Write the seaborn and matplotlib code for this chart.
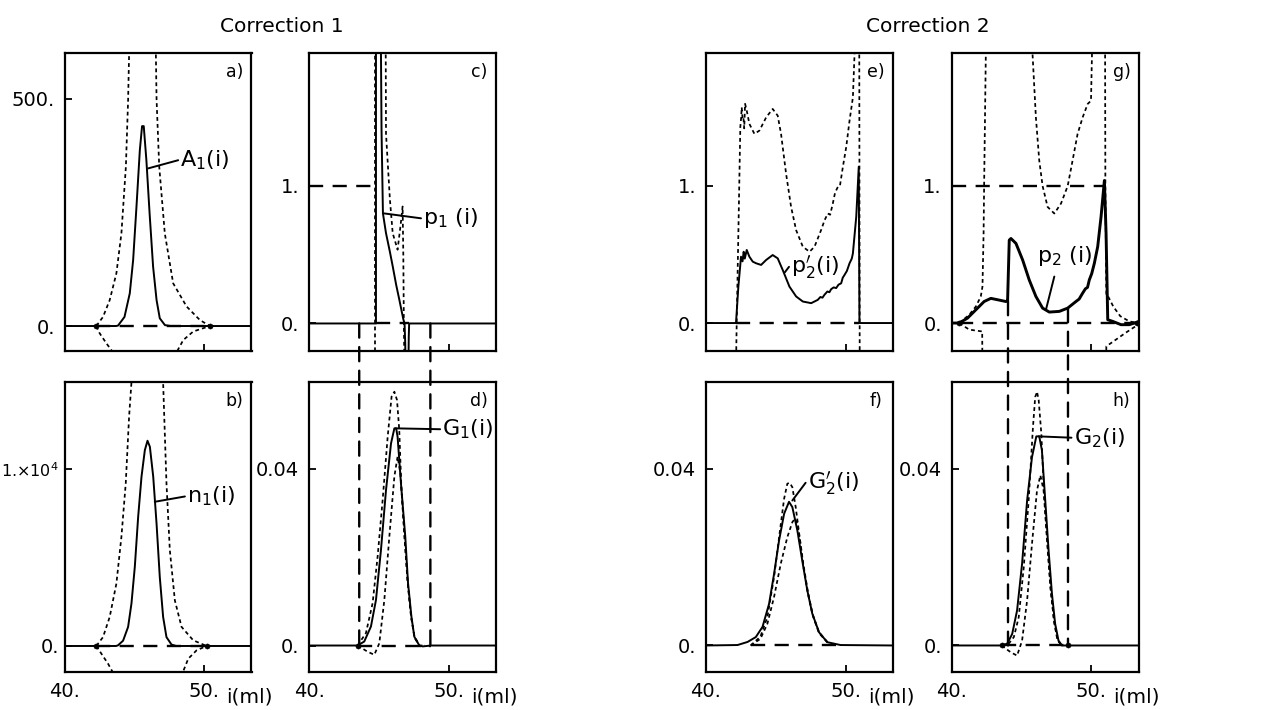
import matplotlib
matplotlib.use("Agg")
import matplotlib.pyplot as plt
import seaborn as sns
from matplotlib.patches import ConnectionPatch

sns.set_style("ticks")
plt.rcParams.update({
    'font.family': ['DejaVu Sans'],
    'mathtext.fontset': 'dejavusans',
    'axes.linewidth': 1.6,
    'axes.edgecolor': 'black',
    'text.color': 'black',
    'xtick.color': 'black',
    'ytick.color': 'black',
    'axes.labelcolor': 'black',
})

# ---------------- data ----------------
# a) A1(i)
A1_x = [40, 43.7, 43.84, 44.3, 44.68, 44.92, 45.16, 45.4, 45.56, 45.68, 45.87, 46.1, 46.35, 46.6, 46.83, 47.2, 47.6, 53.4]
A1_y = [0, 0, 1, 20, 72, 145, 263, 387, 440, 440, 365, 248, 131, 57, 17, 2, 0, 0]
a_up_x = [42.28, 42.76, 43.24, 43.72, 44.08, 44.4, 44.56, 44.63, 44.7, 46.5, 46.55, 46.6, 46.79, 47.19, 47.79, 48.75, 49.71, 50.43]
a_up_y = [0, 20, 57, 116, 204, 351, 498, 598, 800, 800, 598, 498, 351, 204, 94, 43, 13, 0]
a_lo_x = [42.28, 42.52, 43.0, 43.48, 43.7, 47.8, 48.03, 48.51, 49.23, 50.43]
a_lo_y = [0, -16, -38, -58, -80, -80, -58, -31, -12, 0]
a_zero_x = [42.28, 50.43]

# b) n1(i)
n1_x = [40, 43.7, 43.84, 44.2, 44.56, 44.8, 45.04, 45.28, 45.52, 45.76, 45.95, 46.12, 46.36, 46.6, 46.83, 47.07, 47.31, 47.67, 48.0, 53.4]
n1_y = [0, 0, 40, 300, 1080, 2400, 4470, 7300, 9570, 11070, 11600, 11260, 9570, 6900, 3900, 1640, 500, 80, 0, 0]
b_up_x = [42.28, 42.76, 43.24, 43.72, 44.08, 44.39, 44.63, 44.8, 44.9, 46.95, 47.07, 47.19, 47.31, 47.55, 47.91, 48.39, 49.23, 50.19]
b_up_y = [0, 500, 1640, 3530, 6170, 9190, 12960, 14900, 20000, 20000, 14900, 12020, 9190, 5420, 2580, 1080, 320, 0]
b_lo_x = [42.28, 42.64, 43.12, 43.48, 43.6, 48.35, 48.47, 48.87, 49.47, 50.19]
b_lo_y = [0, -430, -1000, -1510, -2000, -2000, -1510, -720, -245, 0]
b_zero_x = [42.28, 50.19]

# c) p1(i)
p1_x = [40, 44.8, 44.8, 45.0, 45.12, 45.16, 45.2, 45.3, 45.52, 45.8, 46.0, 46.25, 46.47, 46.76, 46.85, 46.9, 46.93]
p1_y = [0, 0, 2.5, 2.5, 2.2, 1.95, 1.4, 0.8, 0.656, 0.52, 0.416, 0.28, 0.175, 0.031, 0.0, -0.15, -0.4]
p1b_x = [47.12, 47.15, 47.18, 53.4]
p1b_y = [-0.4, -0.1, 0, 0]
c_vert_x = [44.76, 44.76]
c_vert_y = [-0.4, 2.5]
c_dot_x = [45.45, 45.5, 45.52, 45.8, 46.0, 46.35, 46.55, 46.71, 46.76, 46.8, 46.85]
c_dot_y = [2.5, 1.95, 1.38, 0.9, 0.656, 0.536, 0.7, 0.85, 0.5, 0.0, -0.4]
c_one_x = [40, 44.8]
c_zero_x = [44.8, 47.15]
c_links_x = [43.6, 48.7]

# d) G1(i)
G1_x = [40, 43.48, 43.96, 44.44, 44.8, 45.16, 45.52, 45.88, 46.12, 46.25, 46.35, 46.59, 46.9, 47.1, 47.34, 47.55, 47.91, 48.15, 48.75, 53.4]
G1_y = [0, 0, 0.0009, 0.0043, 0.0103, 0.0217, 0.0352, 0.0458, 0.0492, 0.0492, 0.0473, 0.0368, 0.0247, 0.0141, 0.0066, 0.002, 0.0, -0.0002, 0, 0]
d_up_x = [43.48, 44.08, 44.56, 44.92, 45.28, 45.64, 45.92, 46.12, 46.31, 46.47, 46.62, 46.86, 47.1, 47.34, 47.58, 47.95, 48.3]
d_up_y = [0, 0.0028, 0.0096, 0.0202, 0.033, 0.0473, 0.0564, 0.0575, 0.0556, 0.0488, 0.036, 0.024, 0.0135, 0.006, 0.0017, -0.0002, 0]
d_lo_x = [43.48, 44.2, 44.68, 45.04, 45.4, 45.76, 46.12, 46.35, 46.55, 46.8, 47.05, 47.3, 47.55, 47.9, 48.3]
d_lo_y = [0, -0.0014, -0.0021, 0.0005, 0.0103, 0.0247, 0.0383, 0.0428, 0.039, 0.027, 0.015, 0.007, 0.0022, 0.0, 0]
d_zero_x = [43.48, 48.75]

# e) p2'(i)
p2p_x = [40, 42.15, 42.32, 42.51, 42.62, 42.7, 42.78, 42.92, 43.11, 43.35, 43.59, 43.95, 44.31, 44.78, 45.14, 45.5,
         45.98, 46.46, 46.94, 47.54, 48.01, 48.2, 48.35, 48.49, 48.7, 48.85, 48.97, 49.15, 49.33, 49.5, 49.69, 49.8,
         49.93, 50.1, 50.29, 50.45, 50.53, 50.77, 50.95, 51.0, 53.4]
p2p_y = [0, 0, 0.266, 0.484, 0.45, 0.52, 0.47, 0.533, 0.484, 0.448, 0.436, 0.424, 0.46, 0.496, 0.472, 0.387,
         0.266, 0.194, 0.157, 0.145, 0.169, 0.19, 0.185, 0.206, 0.23, 0.225, 0.247, 0.26, 0.255, 0.28, 0.29, 0.33,
         0.351, 0.38, 0.436, 0.47, 0.508, 0.775, 1.14, 0.0, 0]
e_up_x = [42.15, 42.17, 42.2, 42.32, 42.46, 42.52, 42.56, 42.62, 42.68, 42.74, 42.8, 42.92, 43.11, 43.47, 43.83,
          44.31, 44.78, 45.14, 45.38, 45.74, 46.1, 46.46, 46.94, 47.42, 47.78, 48.25, 48.5, 48.73, 48.9, 49.09,
          49.25, 49.45, 49.6, 49.81, 50.05, 50.29, 50.53, 50.65, 50.7]
e_up_y = [-0.4, -0.19, 0, 0.654, 1.43, 1.5, 1.574, 1.49, 1.5, 1.42, 1.6, 1.55, 1.453, 1.38, 1.404,
          1.5, 1.562, 1.513, 1.38, 1.09, 0.847, 0.678, 0.557, 0.52, 0.557, 0.678, 0.75, 0.799, 0.79, 0.872,
          0.95, 0.993, 1.0, 1.138, 1.283, 1.477, 1.646, 1.97, 2.5]
e_vert_x = [50.98, 51.02]
e_vert_y = [2.5, -0.4]
e_zero_x = [42.15, 51.0]

# f) G2'(i)
G2p_x = [40, 42.26, 42.98, 43.57, 44.05, 44.52, 44.88, 45.24, 45.6, 45.95, 46.19, 46.55, 46.9, 47.26, 47.62, 48.1, 48.69, 49.64, 53.4]
G2p_y = [0, 0.0001, 0.0008, 0.0019, 0.0042, 0.0094, 0.0162, 0.0238, 0.0298, 0.0325, 0.0313, 0.026, 0.0192, 0.0125, 0.0072, 0.003, 0.00075, 0.0001, 0]
f_up_x = [43.2, 43.9, 44.4, 44.88, 45.24, 45.6, 45.83, 46.0, 46.19, 46.43, 46.65, 46.95, 47.3, 47.65, 48.1, 48.7]
f_up_y = [0, 0.002, 0.0064, 0.0155, 0.0245, 0.0332, 0.0366, 0.0368, 0.0358, 0.0313, 0.026, 0.019, 0.0122, 0.007, 0.003, 0.0008]
f_lo_x = [43.2, 43.9, 44.4, 44.88, 45.36, 45.83, 46.19, 46.38, 46.55, 46.75, 47.0, 47.3, 47.65, 48.1, 48.7]
f_lo_y = [0, 0.0015, 0.0049, 0.011, 0.0185, 0.0245, 0.0279, 0.0287, 0.0275, 0.0235, 0.0175, 0.0118, 0.0068, 0.0028, 0.0007]
f_zero_x = [43.2, 49.6]

# g) p2(i)
p2_x = [40, 40.55, 41.15, 41.75, 42.34, 42.82, 43.3, 43.9, 44.02, 44.14, 44.26, 44.62, 45.1, 45.57, 46.05, 46.53,
        47.01, 47.73, 48.33, 48.92, 49.15, 49.4, 49.6, 49.75, 49.88, 50.05, 50.24, 50.48, 50.72, 50.96, 51.08, 51.2, 51.56,
        52.15, 52.75, 53.4]
p2_y = [0, 0, 0.036, 0.097, 0.157, 0.18, 0.17, 0.157, 0.16, 0.605, 0.617, 0.581, 0.46, 0.315, 0.194, 0.109,
        0.08, 0.085, 0.109, 0.157, 0.175, 0.218, 0.25, 0.26, 0.315, 0.36, 0.436, 0.557, 0.775, 1.04, 0.654, 0.024, 0.012,
        -0.012, -0.012, 0.01]
g_l_x = [40.55, 41.27, 41.75, 42.1, 42.22, 42.3, 42.34, 42.46, 42.5]
g_l_y = [0, 0.06, 0.121, 0.194, 0.266, 0.654, 1.017, 1.96, 2.5]
g_ll_x = [40.55, 41.27, 42.1, 42.2, 42.22]
g_ll_y = [0, -0.048, -0.06, -0.06, -0.4]
g_u_x = [45.75, 45.81, 46.05, 46.29, 46.53, 46.89, 47.37, 47.85, 48.33, 48.68, 49.04, 49.4, 49.76, 50.0, 50.07, 50.1]
g_u_y = [2.5, 1.96, 1.5, 1.186, 1.0, 0.847, 0.799, 0.872, 1.0, 1.186, 1.38, 1.5, 1.598, 1.622, 1.96, 2.5]
g_r_x = [51.0, 51.03, 51.1, 51.25, 51.6, 52.1, 52.75, 53.4]
g_r_y = [2.5, 1.0, 0.2, 0.19, 0.12, 0.05, 0.012, 0.0]
g_rl_x = [51.06, 51.1, 51.8, 52.5, 53.4]
g_rl_y = [-0.4, -0.17, -0.12, -0.07, -0.01]
g_one_x = [40, 50.96]
g_zero_x = [40.55, 53.3]
g_links_x = [44.05, 48.35]
g_links_y = [0.16, 0.109]

# h) G2(i)
G2_x = [40, 43.59, 43.99, 44.35, 44.7, 45.06, 45.42, 45.77, 46.08, 46.29, 46.48, 46.72, 46.96, 47.2, 47.43, 47.67, 47.91, 53.4]
G2_y = [0, 0, 0.0004, 0.0026, 0.0079, 0.0185, 0.0328, 0.0426, 0.0473, 0.0473, 0.0442, 0.0328, 0.0215, 0.0117, 0.0049, 0.0011, 0, 0]
h_up_x = [43.59, 44.1, 44.47, 44.82, 45.18, 45.53, 45.84, 46.0, 46.13, 46.25, 46.44, 46.6, 46.85, 47.1, 47.35, 47.6, 47.9]
h_up_y = [0, 0.0004, 0.0019, 0.0064, 0.0177, 0.0328, 0.0494, 0.0562, 0.0574, 0.0555, 0.0479, 0.0366, 0.024, 0.013, 0.0055, 0.0012, 0]
h_lo_x = [43.59, 44.23, 44.7, 45.06, 45.42, 45.77, 46.13, 46.37, 46.6, 46.85, 47.1, 47.35, 47.6, 47.95]
h_lo_y = [0, -0.0015, -0.0023, 0.0011, 0.0102, 0.023, 0.0351, 0.0385, 0.0351, 0.024, 0.013, 0.0055, 0.0012, 0]
h_zero_x = [43.59, 48.35]

# axis ranges / ticks
x_ticks = [40, 50]
x_ticklabels = ["40.", "50."]
ylims = {'a': (-55, 601), 'b': (-1470, 14920), 'c': (-0.2, 1.965), 'd': (-0.006, 0.0597),
         'e': (-0.204, 1.97), 'f': (-0.006, 0.0596), 'g': (-0.204, 1.97), 'h': (-0.006, 0.0596)}
yticks = {'a': [0, 500], 'b': [0, 10000], 'c': [0, 1], 'd': [0, 0.04],
          'e': [0, 1], 'f': [0, 0.04], 'g': [0, 1], 'h': [0, 0.04]}
yticklabels = {'a': ["0.", "500."], 'b': ["0.", r"1.×10$^4$"], 'c': ["0.", "1."], 'd': ["0.", "0.04"],
               'e': ["0.", "1."], 'f': ["0.", "0.04"], 'g': ["0.", "1."], 'h': ["0.", "0.04"]}

# ---------------- figure layout ----------------
W, H = 1276, 710
fig = plt.figure(figsize=(12.76, 7.1), dpi=100)
col_left = [64.5, 309, 706, 951.5]
ax_w = 187
top_row = (53, 351)
bot_row = (382, 672)


def make_ax(col, row):
    t, b = row
    return fig.add_axes([col_left[col] / W, 1 - b / H, ax_w / W, (b - t) / H])


axes = {'a': make_ax(0, top_row), 'b': make_ax(0, bot_row),
        'c': make_ax(1, top_row), 'd': make_ax(1, bot_row),
        'e': make_ax(2, top_row), 'f': make_ax(2, bot_row),
        'g': make_ax(3, top_row), 'h': make_ax(3, bot_row)}

LW = {'solid': 1.4, 'thick': 2.1, 'dot': 1.25, 'dash': 1.7}


def curve(ax, xs, ys, kind='solid'):
    sns.lineplot(x=xs, y=ys, ax=ax, sort=False, estimator=None, color='black', lw=LW[kind])
    line = ax.lines[-1]
    if kind == 'dot':
        line.set_dashes((2.2, 1.8))
    elif kind == 'dash':
        line.set_dashes((6, 4))


def hline(ax, xs, yv, kind='dash'):
    curve(ax, xs, [yv] * len(xs), kind)


def dots(ax, xs, ys):
    sns.scatterplot(x=xs, y=ys, ax=ax, color='black', s=14, zorder=5, edgecolor='black')


def label(ax, x0, y0, x1, y1, txt):
    curve(ax, [x0, x1], [y0, y1], 'solid')
    ax.text(x1 + 0.15, y1, txt, fontsize=16, va='center', ha='left')


# a
ax = axes['a']
curve(ax, A1_x, A1_y)
curve(ax, a_up_x, a_up_y, 'dot')
curve(ax, a_lo_x, a_lo_y, 'dot')
hline(ax, a_zero_x, 0)
dots(ax, a_zero_x, [0, 0])
label(ax, 46.0, 347, 48.15, 365, r"A$_1$(i)")

# b
ax = axes['b']
curve(ax, n1_x, n1_y)
curve(ax, b_up_x, b_up_y, 'dot')
curve(ax, b_lo_x, b_lo_y, 'dot')
hline(ax, b_zero_x, 0)
dots(ax, b_zero_x, [0, 0])
label(ax, 46.47, 8150, 48.63, 8450, r"n$_1$(i)")

# c
ax = axes['c']
curve(ax, p1_x, p1_y)
curve(ax, p1b_x, p1b_y)
curve(ax, c_vert_x, c_vert_y, 'dot')
curve(ax, c_dot_x, c_dot_y, 'dot')
hline(ax, c_one_x, 1)
hline(ax, c_zero_x, 0)
label(ax, 45.35, 0.8, 48.03, 0.764, r"p$_1$ (i)")

# d
ax = axes['d']
curve(ax, G1_x, G1_y)
curve(ax, d_up_x, d_up_y, 'dot')
curve(ax, d_lo_x, d_lo_y, 'dot')
hline(ax, d_zero_x, 0)
dots(ax, [43.48], [0])
label(ax, 46.2, 0.0492, 49.4, 0.049, r"G$_1$(i)")

# e
ax = axes['e']
curve(ax, p2p_x, p2p_y)
curve(ax, e_up_x, e_up_y, 'dot')
curve(ax, e_vert_x, e_vert_y, 'dot')
hline(ax, e_zero_x, 0)
label(ax, 45.65, 0.37, 45.95, 0.41, r"p$^{\prime}_{2}$(i)")

# f
ax = axes['f']
curve(ax, G2p_x, G2p_y)
curve(ax, f_up_x, f_up_y, 'dot')
curve(ax, f_lo_x, f_lo_y, 'dot')
hline(ax, f_zero_x, 0)
label(ax, 46.19, 0.0328, 47.14, 0.0368, r"G$^{\prime}_{2}$(i)")

# g
ax = axes['g']
curve(ax, p2_x, p2_y, 'thick')
for xs, ys in [(g_l_x, g_l_y), (g_ll_x, g_ll_y), (g_u_x, g_u_y), (g_r_x, g_r_y), (g_rl_x, g_rl_y)]:
    curve(ax, xs, ys, 'dot')
hline(ax, g_one_x, 1)
hline(ax, g_zero_x, 0)
dots(ax, g_zero_x, [0, 0])
curve(ax, [46.77, 47.37], [0.097, 0.339], 'solid')
ax.text(46.15, 0.49, r"p$_2$ (i)", fontsize=16, va='center', ha='left')

# h
ax = axes['h']
curve(ax, G2_x, G2_y)
curve(ax, h_up_x, h_up_y, 'dot')
curve(ax, h_lo_x, h_lo_y, 'dot')
hline(ax, h_zero_x, 0)
dots(ax, h_zero_x, [0, 0])
label(ax, 46.25, 0.0473, 48.6, 0.047, r"G$_2$(i)")

# common axis styling
for key, ax in axes.items():
    ax.set_xlim(40, 40 + ax_w / 13.95)
    ax.set_ylim(*ylims[key])
    ax.set_xticks(x_ticks)
    ax.set_yticks(yticks[key])
    ax.set_yticklabels(yticklabels[key])
    if key in 'bdfh':
        ax.set_xticklabels(x_ticklabels)
        ax.text(51.6, -0.085, "i(ml)", transform=ax.get_xaxis_transform(),
                fontsize=14.5, ha='left', va='center')
    else:
        ax.set_xticklabels([])
    ax.tick_params(direction='in', length=5, width=1.3, labelsize=14, pad=7)
    ax.set_xlabel("")
    ax.set_ylabel("")
    ax.text(0.91, 0.935, key + ")", transform=ax.transAxes, fontsize=12.5, ha='center', va='center')
    for s in ax.spines.values():
        s.set_linewidth(1.6)

# the long label on panel b needs a smaller size to fit the margin
axes['b'].tick_params(axis='y', pad=4)
for t in axes['b'].get_yticklabels():
    t.set_fontsize(11.5 if '×' in t.get_text() else 14)

# dashed guide lines running from the upper panels into the lower ones
for xv in c_links_x:
    fig.add_artist(ConnectionPatch(xyA=(xv, 0), coordsA=axes['c'].transData,
                                   xyB=(xv, 0), coordsB=axes['d'].transData,
                                   color='black', lw=1.7, linestyle=(0, (6, 4))))
for xv, yv in zip(g_links_x, g_links_y):
    fig.add_artist(ConnectionPatch(xyA=(xv, yv), coordsA=axes['g'].transData,
                                   xyB=(xv, 0), coordsB=axes['h'].transData,
                                   color='black', lw=1.7, linestyle=(0, (6, 4))))

fig.text(282 / W, 1 - 27 / H, "Correction 1", fontsize=14.5, ha='center', va='center')
fig.text(928 / W, 1 - 27 / H, "Correction 2", fontsize=14.5, ha='center', va='center')

fig.savefig("out.png", dpi=100)
